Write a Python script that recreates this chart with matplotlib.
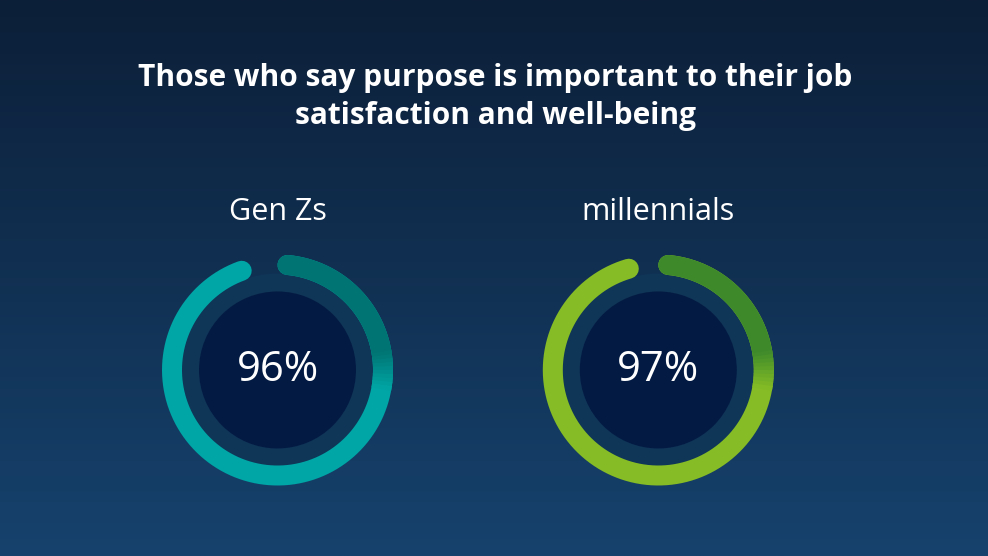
import numpy as np
import matplotlib.pyplot as plt
from matplotlib.patches import Circle, Wedge
from matplotlib.colors import to_rgb

title = "Those who say purpose is important to their job\nsatisfaction and well-being"
groups = ["Gen Zs", "millennials"]
shares = [96, 97]
light_colors = ["#00a5a5", "#86bc25"]
dark_colors = ["#007472", "#3e8a2b"]

W, H = 988, 556
centers_x = [277.5, 658.3]
center_y = 370
ring_r = 105.5
ring_w = 20
disc_r = 78.5


def blend(c1, c2, t):
    a, b = np.array(to_rgb(c1)), np.array(to_rgb(c2))
    return tuple(a + (b - a) * t)


def arc_xy(cx, cy, a0, a1, n=200):
    rad = np.radians(np.linspace(a0, a1, n))
    return cx + ring_r * np.sin(rad), cy - ring_r * np.cos(rad)


def draw_ring(ax, cx, cy, pct, light, dark):
    # track + inner disc
    ax.add_patch(Wedge((cx, cy), ring_r - ring_w / 2 + 1, 0, 360, width=18,
                       facecolor="#0f3557", edgecolor="none", zorder=2))
    ax.add_patch(Circle((cx, cy), disc_r, facecolor="#031b42",
                        edgecolor="none", zorder=3))

    # progress arc, clockwise from 12 o'clock with round ends
    lw = ring_w * 72 / 100
    cap = np.degrees((ring_w / 2) / ring_r)
    start, end = cap, pct / 100 * 360 - cap
    xs, ys = arc_xy(cx, cy, start, end, 400)
    ax.plot(xs, ys, color=light, lw=lw, solid_capstyle="round", zorder=4)
    # darker upper-right part
    xs, ys = arc_xy(cx, cy, start, 81)
    ax.plot(xs, ys, color=dark, lw=lw, solid_capstyle="round", zorder=5)
    # short blend towards the light colour around 3 o'clock
    steps = np.linspace(80, 100, 11)
    for i in range(len(steps) - 1):
        xs, ys = arc_xy(cx, cy, steps[i], steps[i + 1] + 0.4, 10)
        ax.plot(xs, ys, color=blend(dark, light, (i + 0.5) / 10), lw=lw,
                solid_capstyle="butt", zorder=5)


fig = plt.figure(figsize=(W / 100, H / 100), dpi=100)
ax = fig.add_axes([0, 0, 1, 1])
ax.set_xlim(0, W)
ax.set_ylim(H, 0)
ax.axis("off")

# vertical background gradient
top, bottom = np.array(to_rgb("#0c1f38")), np.array(to_rgb("#16426d"))
g = np.linspace(0, 1, 256)[:, None]
bg = (top + (bottom - top) * g)[:, None, :].repeat(2, axis=1)
ax.imshow(bg, extent=[0, W, H, 0], aspect="auto", zorder=0)

ax.text(495, 97, title, ha="center", va="center", color="white",
        fontsize=21.5, fontweight="bold", family="Open Sans",
        linespacing=1.38, zorder=6)

for cx, name, pct, lc, dc in zip(centers_x, groups, shares, light_colors, dark_colors):
    draw_ring(ax, cx, center_y, pct, lc, dc)
    ax.text(cx, 212, name, ha="center", va="center", color="white",
            fontsize=22, family="Open Sans", zorder=6)
    ax.text(cx, 370, f"{pct}%", ha="center", va="center", color="white",
            fontsize=30, family="Open Sans", zorder=6)

fig.savefig("out.png", dpi=100)
